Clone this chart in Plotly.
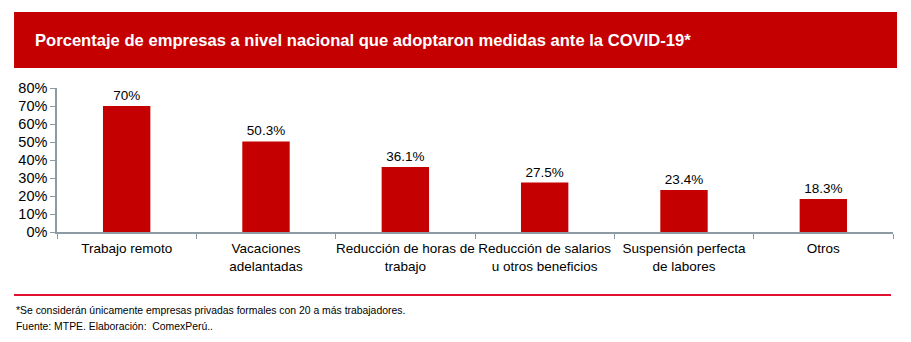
import plotly.graph_objects as go

categorias = [
    "Trabajo remoto",
    "Vacaciones<br>adelantadas",
    "Reducción de horas de<br>trabajo",
    "Reducción de salarios<br>u otros beneficios",
    "Suspensión perfecta<br>de labores",
    "Otros",
]
porcentajes = [70, 50.3, 36.1, 27.5, 23.4, 18.3]
etiquetas = ["70%", "50.3%", "36.1%", "27.5%", "23.4%", "18.3%"]

ROJO = "#c40000"
FUENTE = "Arial, Liberation Sans, sans-serif"

fig = go.Figure(
    go.Bar(
        x=categorias,
        y=porcentajes,
        text=etiquetas,
        textposition="outside",
        textfont=dict(family=FUENTE, size=13.5, color="#000000"),
        cliponaxis=False,
        marker=dict(color=ROJO, line=dict(width=0)),
        width=0.34,
    )
)

fig.update_layout(
    width=911,
    height=342,
    margin=dict(l=57, r=18, t=88, b=110, autoexpand=False),
    paper_bgcolor="white",
    plot_bgcolor="white",
    showlegend=False,
    font=dict(family=FUENTE, size=13, color="#000000"),
)

fig.update_xaxes(
    type="category",
    automargin=False,
    tickangle=0,
    showline=True,
    linecolor="#8c9ba3",
    linewidth=1.5,
    ticks="outside",
    tickson="boundaries",
    ticklen=5,
    tickcolor="#8c9ba3",
    ticklabelstandoff=3,
    tickfont=dict(family=FUENTE, size=13.5, color="#000000"),
    showgrid=False,
)
fig.update_yaxes(
    automargin=False,
    range=[0, 80],
    dtick=10,
    ticksuffix="%",
    showline=True,
    linecolor="#8c9ba3",
    linewidth=1.5,
    ticks="outside",
    ticklen=5,
    tickcolor="#8c9ba3",
    tickfont=dict(family=FUENTE, size=14.5, color="#000000"),
    showgrid=False,
    zeroline=False,
)

# Encabezado rojo con el título
fig.add_shape(
    type="rect", xref="paper", yref="paper",
    x0=-0.0514, x1=1.0048, y0=1.1389, y1=1.5278,
    fillcolor=ROJO, line=dict(width=0), layer="below",
)
fig.add_annotation(
    xref="paper", yref="paper", x=-0.0287, y=1.3333,
    xanchor="left", yanchor="middle", showarrow=False,
    text="<b>Porcentaje de empresas a nivel nacional que adoptaron medidas ante la COVID-19*</b>",
    font=dict(family=FUENTE, size=16.6, color="white"),
)

# Línea separadora y notas
fig.add_shape(
    type="line", xref="paper", yref="paper",
    x0=-0.0514, x1=0.9976, y0=-0.4375, y1=-0.4375,
    line=dict(color="#e0102f", width=2),
)
fig.add_annotation(
    xref="paper", yref="paper", x=-0.0514, y=-0.5417,
    xanchor="left", yanchor="middle", showarrow=False,
    text="*Se considerán únicamente empresas privadas formales con 20 a más trabajadores.",
    font=dict(family=FUENTE, size=10.4, color="#000000"),
)
fig.add_annotation(
    xref="paper", yref="paper", x=-0.0514, y=-0.6528,
    xanchor="left", yanchor="middle", showarrow=False,
    text="Fuente: MTPE. Elaboración:  ComexPerú..",
    font=dict(family=FUENTE, size=10.4, color="#000000"),
)

fig.write_html("out.html")
